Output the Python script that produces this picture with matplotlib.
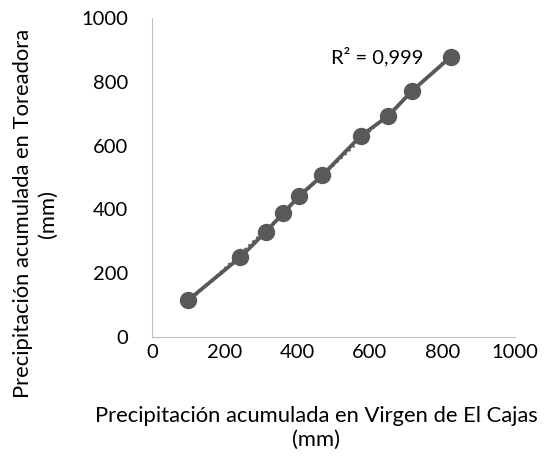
import matplotlib.pyplot as plt
import numpy as np

plt.rcParams['font.family'] = ['Lato', 'DejaVu Sans']

# Precipitación acumulada (mm)
virgen_cajas = [100, 244, 314, 362, 406, 469, 575, 651, 717, 824]
toreadora = [115, 250, 330, 388, 442, 506, 630, 693, 772, 879]
r2_text = 'R² = 0,999'
ticks = [0, 200, 400, 600, 800, 1000]

color = '#595959'
fs = 14.5
fs_lab = 15.8

fig = plt.figure(figsize=(5.44, 4.59), dpi=100)
ax = fig.add_axes([0.279, 0.266, 0.668, 0.695])

# linea de tendencia
coef = np.polyfit(virgen_cajas, toreadora, 1)
xt = np.array([min(virgen_cajas), max(virgen_cajas)])
ax.plot(xt, np.polyval(coef, xt), color=color, lw=1.5, ls=':', zorder=2)

ax.plot(virgen_cajas, toreadora, color=color, lw=2.75, marker='o', ms=11.5, zorder=3)
ax.text(619, 878, r2_text, fontsize=fs, ha='center', va='center', color='#000000')

ax.set_xlim(0, 1000)
ax.set_ylim(0, 1000)
ax.set_xticks(ticks)
ax.set_yticks(ticks)
ax.tick_params(length=0, labelsize=fs)
ax.tick_params(axis='y', pad=17)
ax.tick_params(axis='x', pad=5)
for s in ['top', 'right']:
    ax.spines[s].set_visible(False)
for s in ['left', 'bottom']:
    ax.spines[s].set_color('#BFBFBF')

ax.set_xlabel('Precipitación acumulada en Virgen de El Cajas\n(mm)', fontsize=fs_lab,
              linespacing=1.25, va='center')
ax.set_ylabel('Precipitación acumulada en Toreadora\n(mm)', fontsize=fs_lab,
              linespacing=1.25, va='center')
ax.xaxis.set_label_coords(0.452, -0.285)
ax.yaxis.set_label_coords(-0.32, 0.386)

fig.savefig('out.png', dpi=100)
